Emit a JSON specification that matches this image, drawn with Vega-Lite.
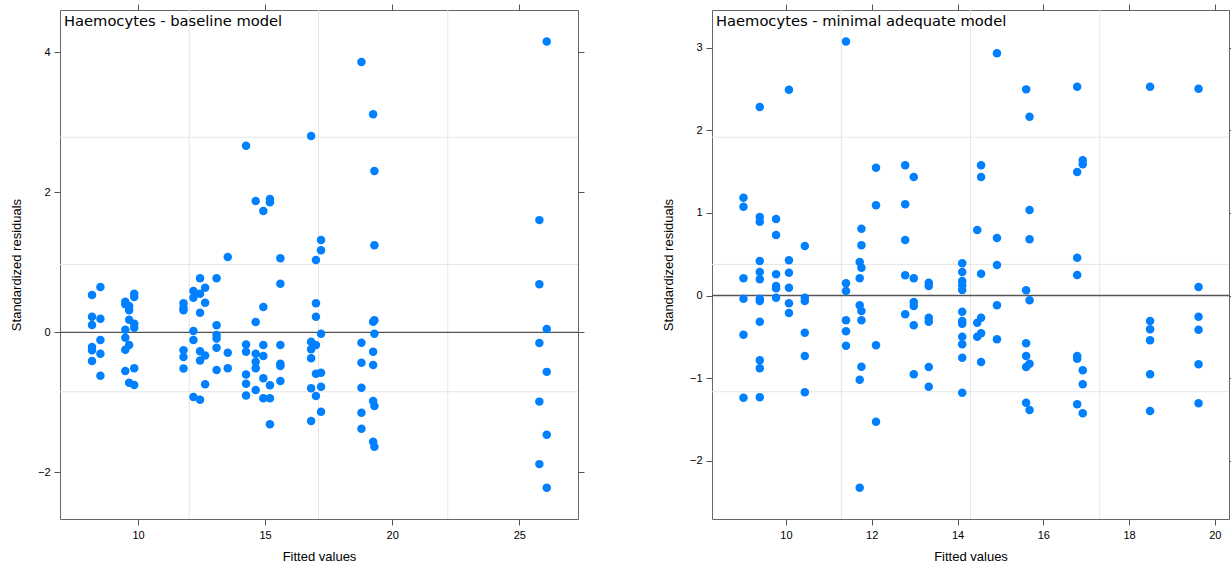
{
  "$schema": "https://vega.github.io/schema/vega-lite/v6.json",
  "background": "white",
  "padding": {"left": 9, "top": 3, "right": 0, "bottom": 0},
  "config": {
    "view": {"stroke": "#666666", "strokeWidth": 1},
    "axis": {
      "labelFont": "Liberation Sans", "labelFontSize": 11, "labelColor": "#000000",
      "titleFont": "Liberation Sans", "titleFontSize": 13, "titleFontWeight": "normal", "titleColor": "#000000",
      "tickColor": "#555555", "tickSize": 6, "domain": false, "grid": false, "labelPadding": 4
    },
    "axisLeft": {"titlePadding": 14},
    "axisBottom": {"titlePadding": 10},
    "title": {"font": "DejaVu Sans", "fontSize": 14.7, "fontWeight": "normal", "color": "#000000", "anchor": "start", "frame": "group", "baseline": "alphabetic", "offset": -25, "dx": 4}
  },
  "datasets": {
    "left": [
      {"fitted": 8.19, "resid": 0.534}, {"fitted": 8.19, "resid": 0.224}, {"fitted": 8.19, "resid": 0.106}, {"fitted": 8.19, "resid": -0.209}, {"fitted": 8.19, "resid": -0.256}, {"fitted": 8.19, "resid": -0.409},
      {"fitted": 8.52, "resid": 0.649}, {"fitted": 8.52, "resid": 0.196}, {"fitted": 8.52, "resid": -0.109}, {"fitted": 8.52, "resid": -0.304}, {"fitted": 8.52, "resid": -0.619},
      {"fitted": 9.5, "resid": 0.439}, {"fitted": 9.5, "resid": 0.401}, {"fitted": 9.5, "resid": 0.039}, {"fitted": 9.5, "resid": -0.076}, {"fitted": 9.5, "resid": -0.247}, {"fitted": 9.5, "resid": -0.551},
      {"fitted": 9.65, "resid": 0.377}, {"fitted": 9.65, "resid": 0.316}, {"fitted": 9.65, "resid": 0.181}, {"fitted": 9.65, "resid": -0.18}, {"fitted": 9.65, "resid": -0.719},
      {"fitted": 9.85, "resid": 0.553}, {"fitted": 9.85, "resid": 0.506}, {"fitted": 9.85, "resid": 0.124}, {"fitted": 9.85, "resid": 0.067}, {"fitted": 9.85, "resid": -0.513}, {"fitted": 9.85, "resid": -0.751},
      {"fitted": 11.79, "resid": 0.416}, {"fitted": 11.79, "resid": 0.353}, {"fitted": 11.79, "resid": 0.316}, {"fitted": 11.79, "resid": -0.256}, {"fitted": 11.79, "resid": -0.351}, {"fitted": 11.79, "resid": -0.516},
      {"fitted": 12.18, "resid": 0.591}, {"fitted": 12.18, "resid": 0.496}, {"fitted": 12.18, "resid": 0.02}, {"fitted": 12.18, "resid": -0.109}, {"fitted": 12.18, "resid": -0.923},
      {"fitted": 12.44, "resid": 0.773}, {"fitted": 12.44, "resid": 0.553}, {"fitted": 12.44, "resid": 0.281}, {"fitted": 12.44, "resid": -0.27}, {"fitted": 12.44, "resid": -0.403}, {"fitted": 12.44, "resid": -0.961},
      {"fitted": 12.64, "resid": 0.639}, {"fitted": 12.64, "resid": 0.424}, {"fitted": 12.64, "resid": -0.33}, {"fitted": 12.64, "resid": -0.741},
      {"fitted": 13.09, "resid": 0.773}, {"fitted": 13.09, "resid": 0.101}, {"fitted": 13.09, "resid": -0.037}, {"fitted": 13.09, "resid": -0.087}, {"fitted": 13.09, "resid": -0.219}, {"fitted": 13.09, "resid": -0.537},
      {"fitted": 13.53, "resid": 1.077}, {"fitted": 13.53, "resid": -0.29}, {"fitted": 13.53, "resid": -0.513},
      {"fitted": 14.25, "resid": 2.667}, {"fitted": 14.25, "resid": -0.173}, {"fitted": 14.25, "resid": -0.277}, {"fitted": 14.25, "resid": -0.601}, {"fitted": 14.25, "resid": -0.734}, {"fitted": 14.25, "resid": -0.901},
      {"fitted": 14.63, "resid": 1.877}, {"fitted": 14.63, "resid": 0.149}, {"fitted": 14.63, "resid": -0.304}, {"fitted": 14.63, "resid": -0.419}, {"fitted": 14.63, "resid": -0.513}, {"fitted": 14.63, "resid": -0.823},
      {"fitted": 14.93, "resid": 1.734}, {"fitted": 14.93, "resid": 0.363}, {"fitted": 14.93, "resid": -0.18}, {"fitted": 14.93, "resid": -0.337}, {"fitted": 14.93, "resid": -0.656}, {"fitted": 14.93, "resid": -0.941},
      {"fitted": 15.19, "resid": 1.906}, {"fitted": 15.19, "resid": 1.859}, {"fitted": 15.19, "resid": -0.756}, {"fitted": 15.19, "resid": -0.941}, {"fitted": 15.19, "resid": -1.313},
      {"fitted": 15.6, "resid": 1.059}, {"fitted": 15.6, "resid": 0.696}, {"fitted": 15.6, "resid": -0.18}, {"fitted": 15.6, "resid": -0.447}, {"fitted": 15.6, "resid": -0.48}, {"fitted": 15.6, "resid": -0.694},
      {"fitted": 16.81, "resid": 2.806}, {"fitted": 16.81, "resid": -0.133}, {"fitted": 16.81, "resid": -0.241}, {"fitted": 16.81, "resid": -0.37}, {"fitted": 16.81, "resid": -0.799}, {"fitted": 16.81, "resid": -1.266},
      {"fitted": 17.0, "resid": 1.034}, {"fitted": 17.0, "resid": 0.416}, {"fitted": 17.0, "resid": 0.224}, {"fitted": 17.0, "resid": -0.18}, {"fitted": 17.0, "resid": -0.59}, {"fitted": 17.0, "resid": -0.909},
      {"fitted": 17.2, "resid": 1.32}, {"fitted": 17.2, "resid": 1.173}, {"fitted": 17.2, "resid": -0.019}, {"fitted": 17.2, "resid": -0.576}, {"fitted": 17.2, "resid": -0.776}, {"fitted": 17.2, "resid": -1.133},
      {"fitted": 18.79, "resid": 3.863}, {"fitted": 18.79, "resid": -0.147}, {"fitted": 18.79, "resid": -0.433}, {"fitted": 18.79, "resid": -0.79}, {"fitted": 18.79, "resid": -1.147}, {"fitted": 18.79, "resid": -1.376},
      {"fitted": 19.25, "resid": 3.116}, {"fitted": 19.25, "resid": 0.153}, {"fitted": 19.25, "resid": -0.276}, {"fitted": 19.25, "resid": -0.466}, {"fitted": 19.25, "resid": -0.98}, {"fitted": 19.25, "resid": -1.561},
      {"fitted": 19.3, "resid": 2.306}, {"fitted": 19.3, "resid": 1.244}, {"fitted": 19.3, "resid": 0.173}, {"fitted": 19.3, "resid": -0.019}, {"fitted": 19.3, "resid": -1.051}, {"fitted": 19.3, "resid": -1.633},
      {"fitted": 25.79, "resid": 1.604}, {"fitted": 25.79, "resid": 0.687}, {"fitted": 25.79, "resid": -0.153}, {"fitted": 25.79, "resid": -0.989}, {"fitted": 25.79, "resid": -1.882},
      {"fitted": 26.08, "resid": 4.155}, {"fitted": 26.08, "resid": 0.05}, {"fitted": 26.08, "resid": -0.564}, {"fitted": 26.08, "resid": -1.462}, {"fitted": 26.08, "resid": -2.22}
    ],
    "right": [
      {"fitted": 9.01, "resid": 1.184}, {"fitted": 9.01, "resid": 1.075}, {"fitted": 9.01, "resid": 0.208}, {"fitted": 9.01, "resid": -0.039}, {"fitted": 9.01, "resid": -0.475}, {"fitted": 9.01, "resid": -1.237},
      {"fitted": 9.39, "resid": 2.282}, {"fitted": 9.39, "resid": 0.95}, {"fitted": 9.39, "resid": 0.893}, {"fitted": 9.39, "resid": 0.418}, {"fitted": 9.39, "resid": 0.284}, {"fitted": 9.39, "resid": 0.196}, {"fitted": 9.39, "resid": -0.039}, {"fitted": 9.39, "resid": -0.067}, {"fitted": 9.39, "resid": -0.317}, {"fitted": 9.39, "resid": -0.785}, {"fitted": 9.39, "resid": -0.881}, {"fitted": 9.39, "resid": -1.233},
      {"fitted": 9.77, "resid": 0.926}, {"fitted": 9.77, "resid": 0.732}, {"fitted": 9.77, "resid": 0.257}, {"fitted": 9.77, "resid": 0.115}, {"fitted": 9.77, "resid": 0.087}, {"fitted": 9.77, "resid": -0.027},
      {"fitted": 10.07, "resid": 2.492}, {"fitted": 10.07, "resid": 0.426}, {"fitted": 10.07, "resid": 0.276}, {"fitted": 10.07, "resid": 0.094}, {"fitted": 10.07, "resid": -0.094}, {"fitted": 10.07, "resid": -0.212},
      {"fitted": 10.44, "resid": 0.599}, {"fitted": 10.44, "resid": -0.027}, {"fitted": 10.44, "resid": -0.067}, {"fitted": 10.44, "resid": -0.45}, {"fitted": 10.44, "resid": -0.732}, {"fitted": 10.44, "resid": -1.172},
      {"fitted": 11.4, "resid": 3.077}, {"fitted": 11.4, "resid": 0.148}, {"fitted": 11.4, "resid": 0.054}, {"fitted": 11.4, "resid": -0.3}, {"fitted": 11.4, "resid": -0.433}, {"fitted": 11.4, "resid": -0.608},
      {"fitted": 11.72, "resid": 0.406}, {"fitted": 11.72, "resid": 0.208}, {"fitted": 11.72, "resid": -0.119}, {"fitted": 11.72, "resid": -1.019}, {"fitted": 11.72, "resid": -2.327},
      {"fitted": 11.76, "resid": 0.809}, {"fitted": 11.76, "resid": 0.608}, {"fitted": 11.76, "resid": 0.337}, {"fitted": 11.76, "resid": -0.188}, {"fitted": 11.76, "resid": -0.3}, {"fitted": 11.76, "resid": -0.862},
      {"fitted": 12.1, "resid": 1.547}, {"fitted": 12.1, "resid": 1.092}, {"fitted": 12.1, "resid": -0.603}, {"fitted": 12.1, "resid": -1.528},
      {"fitted": 12.78, "resid": 1.576}, {"fitted": 12.78, "resid": 1.104}, {"fitted": 12.78, "resid": 0.672}, {"fitted": 12.78, "resid": 0.245}, {"fitted": 12.78, "resid": -0.228},
      {"fitted": 12.98, "resid": 1.435}, {"fitted": 12.98, "resid": 0.208}, {"fitted": 12.98, "resid": -0.079}, {"fitted": 12.98, "resid": -0.127}, {"fitted": 12.98, "resid": -0.361}, {"fitted": 12.98, "resid": -0.954},
      {"fitted": 13.33, "resid": 0.155}, {"fitted": 13.33, "resid": 0.115}, {"fitted": 13.33, "resid": -0.269}, {"fitted": 13.33, "resid": -0.317}, {"fitted": 13.33, "resid": -0.866}, {"fitted": 13.33, "resid": -1.104},
      {"fitted": 14.11, "resid": 0.39}, {"fitted": 14.11, "resid": 0.284}, {"fitted": 14.11, "resid": 0.176}, {"fitted": 14.11, "resid": 0.123}, {"fitted": 14.11, "resid": 0.067}, {"fitted": 14.11, "resid": -0.196}, {"fitted": 14.11, "resid": -0.309}, {"fitted": 14.11, "resid": -0.341}, {"fitted": 14.11, "resid": -0.499}, {"fitted": 14.11, "resid": -0.591}, {"fitted": 14.11, "resid": -0.753}, {"fitted": 14.11, "resid": -1.177},
      {"fitted": 14.46, "resid": 0.793}, {"fitted": 14.46, "resid": -0.329}, {"fitted": 14.46, "resid": -0.499},
      {"fitted": 14.55, "resid": 1.576}, {"fitted": 14.55, "resid": 1.435}, {"fitted": 14.55, "resid": 0.264}, {"fitted": 14.55, "resid": -0.269}, {"fitted": 14.55, "resid": -0.458}, {"fitted": 14.55, "resid": -0.805},
      {"fitted": 14.92, "resid": 2.932}, {"fitted": 14.92, "resid": 0.696}, {"fitted": 14.92, "resid": 0.369}, {"fitted": 14.92, "resid": -0.119}, {"fitted": 14.92, "resid": -0.53},
      {"fitted": 15.6, "resid": 2.496}, {"fitted": 15.6, "resid": 0.063}, {"fitted": 15.6, "resid": -0.579}, {"fitted": 15.6, "resid": -0.732}, {"fitted": 15.6, "resid": -0.866}, {"fitted": 15.6, "resid": -1.298},
      {"fitted": 15.68, "resid": 2.165}, {"fitted": 15.68, "resid": 1.035}, {"fitted": 15.68, "resid": 0.68}, {"fitted": 15.68, "resid": -0.058}, {"fitted": 15.68, "resid": -0.826}, {"fitted": 15.68, "resid": -1.386},
      {"fitted": 16.79, "resid": 2.528}, {"fitted": 16.79, "resid": 1.495}, {"fitted": 16.79, "resid": 0.458}, {"fitted": 16.79, "resid": 0.248}, {"fitted": 16.79, "resid": -0.732}, {"fitted": 16.79, "resid": -0.765}, {"fitted": 16.79, "resid": -1.317},
      {"fitted": 16.92, "resid": 1.637}, {"fitted": 16.92, "resid": 1.588}, {"fitted": 16.92, "resid": -0.906}, {"fitted": 16.92, "resid": -1.075}, {"fitted": 16.92, "resid": -1.426},
      {"fitted": 18.49, "resid": 2.528}, {"fitted": 18.49, "resid": -0.309}, {"fitted": 18.49, "resid": -0.409}, {"fitted": 18.49, "resid": -0.542}, {"fitted": 18.49, "resid": -0.954}, {"fitted": 18.49, "resid": -1.398},
      {"fitted": 19.62, "resid": 2.504}, {"fitted": 19.62, "resid": 0.103}, {"fitted": 19.62, "resid": -0.257}, {"fitted": 19.62, "resid": -0.414}, {"fitted": 19.62, "resid": -0.833}, {"fitted": 19.62, "resid": -1.305}
    ],
    "leftGridX": [{"g": 12.015}, {"g": 17.1}, {"g": 22.185}],
    "leftGridY": [{"g": -0.848}, {"g": 0.97}, {"g": 2.788}],
    "rightGridX": [{"g": 11.29}, {"g": 14.303}, {"g": 17.317}],
    "rightGridY": [{"g": -1.165}, {"g": 0.376}, {"g": 1.917}],
    "zero": [{"ref": 0}]
  },
  "bounds": "flush",
  "spacing": 134,
  "hconcat": [
    {
      "width": 518, "height": 509,
      "title": {"text": "Haemocytes - baseline model"},
      "resolve": {"axis": {"x": "independent", "y": "independent"}},
      "layer": [
        {
          "data": {"name": "leftGridX"},
          "mark": {"type": "rule", "color": "#e6e6e6", "strokeWidth": 1},
          "encoding": {"x": {"field": "g", "type": "quantitative", "scale": {"domain": [6.93, 27.31], "nice": false, "zero": false}, "axis": {"orient": "top", "values": [10, 15, 20, 25], "labels": false, "title": null}}}
        },
        {
          "data": {"name": "leftGridY"},
          "mark": {"type": "rule", "color": "#e6e6e6", "strokeWidth": 1},
          "encoding": {"y": {"field": "g", "type": "quantitative", "scale": {"domain": [-2.666, 4.606], "nice": false, "zero": false}, "axis": {"orient": "right", "values": [-2, 0, 2, 4], "labels": false, "title": null}}}
        },
        {
          "data": {"name": "zero"},
          "mark": {"type": "rule", "color": "#555555", "strokeWidth": 1.3},
          "encoding": {"y": {"field": "ref", "type": "quantitative", "scale": {"domain": [-2.666, 4.606], "nice": false, "zero": false}, "axis": null}}
        },
        {
          "data": {"name": "left"},
          "mark": {"type": "circle", "size": 72, "color": "#0080ff", "opacity": 1},
          "encoding": {
            "x": {"field": "fitted", "type": "quantitative", "scale": {"domain": [6.93, 27.31], "nice": false, "zero": false}, "axis": {"orient": "bottom", "values": [10, 15, 20, 25], "title": "Fitted values"}},
            "y": {"field": "resid", "type": "quantitative", "scale": {"domain": [-2.666, 4.606], "nice": false, "zero": false}, "axis": {"orient": "left", "values": [-2, 0, 2, 4], "title": "Standardized residuals"}}
          }
        }
      ]
    },
    {
      "width": 517, "height": 509,
      "title": {"text": "Haemocytes - minimal adequate model"},
      "resolve": {"axis": {"x": "independent", "y": "independent"}},
      "layer": [
        {
          "data": {"name": "rightGridX"},
          "mark": {"type": "rule", "color": "#e6e6e6", "strokeWidth": 1},
          "encoding": {"x": {"field": "g", "type": "quantitative", "scale": {"domain": [8.276, 20.33], "nice": false, "zero": false}, "axis": {"orient": "top", "values": [10, 12, 14, 16, 18, 20], "labels": false, "title": null}}}
        },
        {
          "data": {"name": "rightGridY"},
          "mark": {"type": "rule", "color": "#e6e6e6", "strokeWidth": 1},
          "encoding": {"y": {"field": "g", "type": "quantitative", "scale": {"domain": [-2.706, 3.457], "nice": false, "zero": false}, "axis": {"orient": "right", "values": [-2, -1, 0, 1, 2, 3], "labels": false, "title": null, "tickSize": 2}}}
        },
        {
          "data": {"name": "zero"},
          "mark": {"type": "rule", "color": "#555555", "strokeWidth": 1.3},
          "encoding": {"y": {"field": "ref", "type": "quantitative", "scale": {"domain": [-2.706, 3.457], "nice": false, "zero": false}, "axis": null}}
        },
        {
          "data": {"name": "right"},
          "mark": {"type": "circle", "size": 72, "color": "#0080ff", "opacity": 1},
          "encoding": {
            "x": {"field": "fitted", "type": "quantitative", "scale": {"domain": [8.276, 20.33], "nice": false, "zero": false}, "axis": {"orient": "bottom", "values": [10, 12, 14, 16, 18, 20], "title": "Fitted values"}},
            "y": {"field": "resid", "type": "quantitative", "scale": {"domain": [-2.706, 3.457], "nice": false, "zero": false}, "axis": {"orient": "left", "values": [-2, -1, 0, 1, 2, 3], "title": "Standardized residuals"}}
          }
        }
      ]
    }
  ]
}
